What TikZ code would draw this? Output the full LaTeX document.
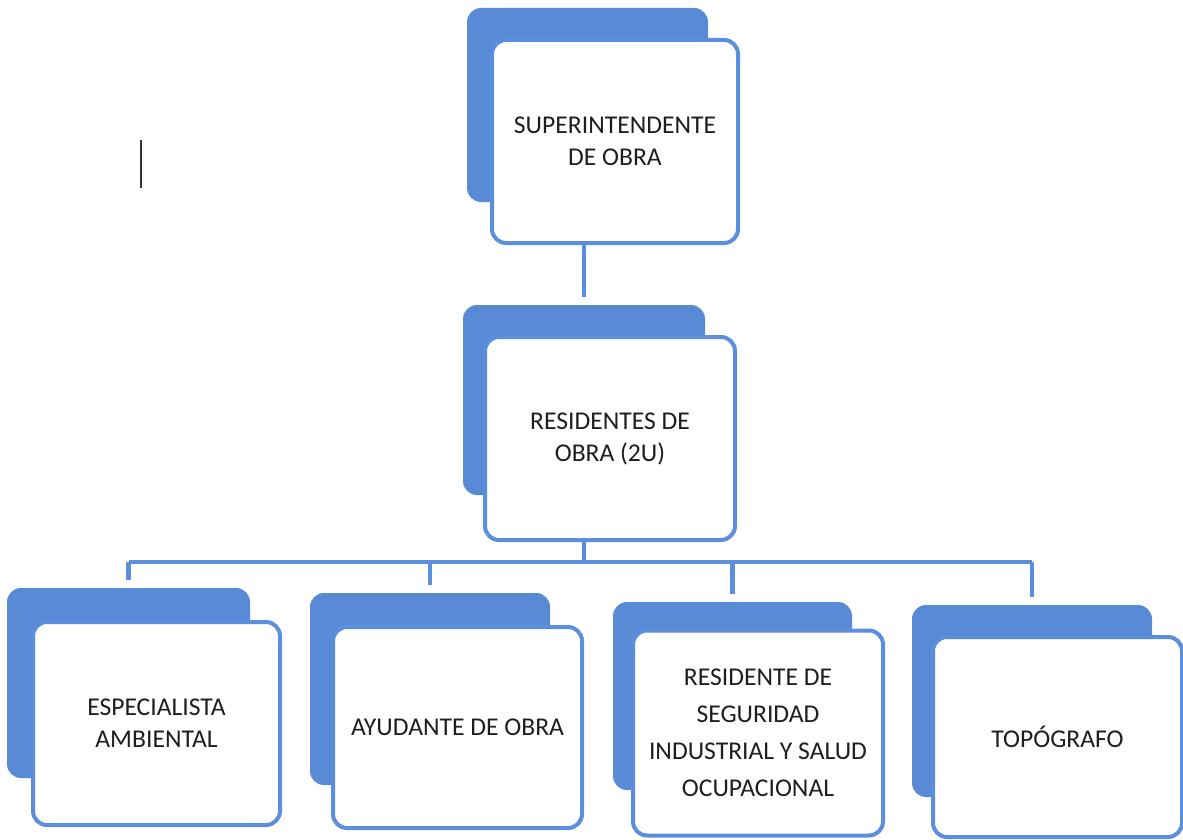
\documentclass[tikz,border=0pt]{standalone}
\usepackage{fontspec}
\setmainfont{Carlito}
\definecolor{orgblue}{RGB}{88,138,214}
\definecolor{orgline}{RGB}{92,142,222}
\definecolor{orgtext}{RGB}{30,30,30}
\tikzset{
  backbox/.style={rectangle,rounded corners=7pt,fill=orgblue,inner sep=0pt},
  frontbox/.style={rectangle,rounded corners=7pt,draw=orgline,line width=2pt,fill=white,
    align=center,inner sep=0pt,text=orgtext,font=\fontsize{12.8}{16}\selectfont},
  conn/.style={draw=orgline,line width=2.2pt}
}
\begin{document}
\begin{tikzpicture}[x=0.5pt,y=-0.5pt]
\useasboundingbox (0,0) rectangle (1183,840);
% back plates
\node[backbox,minimum width=120.5pt,minimum height=97pt] (supB) at (587.5,105) {};
\node[backbox,minimum width=121pt,minimum height=95pt] (resB) at (584,400) {};
\node[backbox,minimum width=121.5pt,minimum height=95pt] (espB) at (128.5,683) {};
\node[backbox,minimum width=120pt,minimum height=96pt] (ayuB) at (430,689) {};
\node[backbox,minimum width=119.5pt,minimum height=94pt] (segB) at (732.5,696) {};
\node[backbox,minimum width=120pt,minimum height=96pt] (topB) at (1032,701) {};
% front boxes
\node[frontbox,minimum width=123pt,minimum height=101.5pt] (sup) at (615,141.5) {SUPERINTENDENTE\\DE OBRA};
\node[frontbox,minimum width=125pt,minimum height=101.5pt] (res) at (610,438.5) {RESIDENTES DE\\OBRA (2U)};
\node[frontbox,minimum width=123.5pt,minimum height=101.5pt] (esp) at (156.5,723.5) {ESPECIALISTA\\AMBIENTAL};
\node[frontbox,minimum width=124.5pt,minimum height=100.5pt] (ayu) at (457.5,727.5) {AYUDANTE DE OBRA};
\node[frontbox,minimum width=125pt,minimum height=102.5pt,font=\fontsize{12.8}{18.5}\selectfont] (seg) at (758,733) {RESIDENTE DE\\SEGURIDAD\\INDUSTRIAL Y SALUD\\OCUPACIONAL};
\node[frontbox,minimum width=124.5pt,minimum height=100pt] (top) at (1057.5,737) {TOPÓGRAFO};
% connectors
\draw[conn,shorten >=4pt] (sup.south -| resB.north) -- (resB.north);
\draw[conn] (res.south -| resB.north) -- ++(0,20) coordinate (bus);
\draw[conn] (bus -| espB.north) -- (bus -| topB.north);
\foreach \n in {espB,ayuB,segB,topB}
  \draw[conn,shorten >=4pt] (bus -| \n.north) -- (\n.north);
% stray mark
\draw[line width=1pt,black!80] (141,140) -- (141,188);
\end{tikzpicture}
\end{document}
